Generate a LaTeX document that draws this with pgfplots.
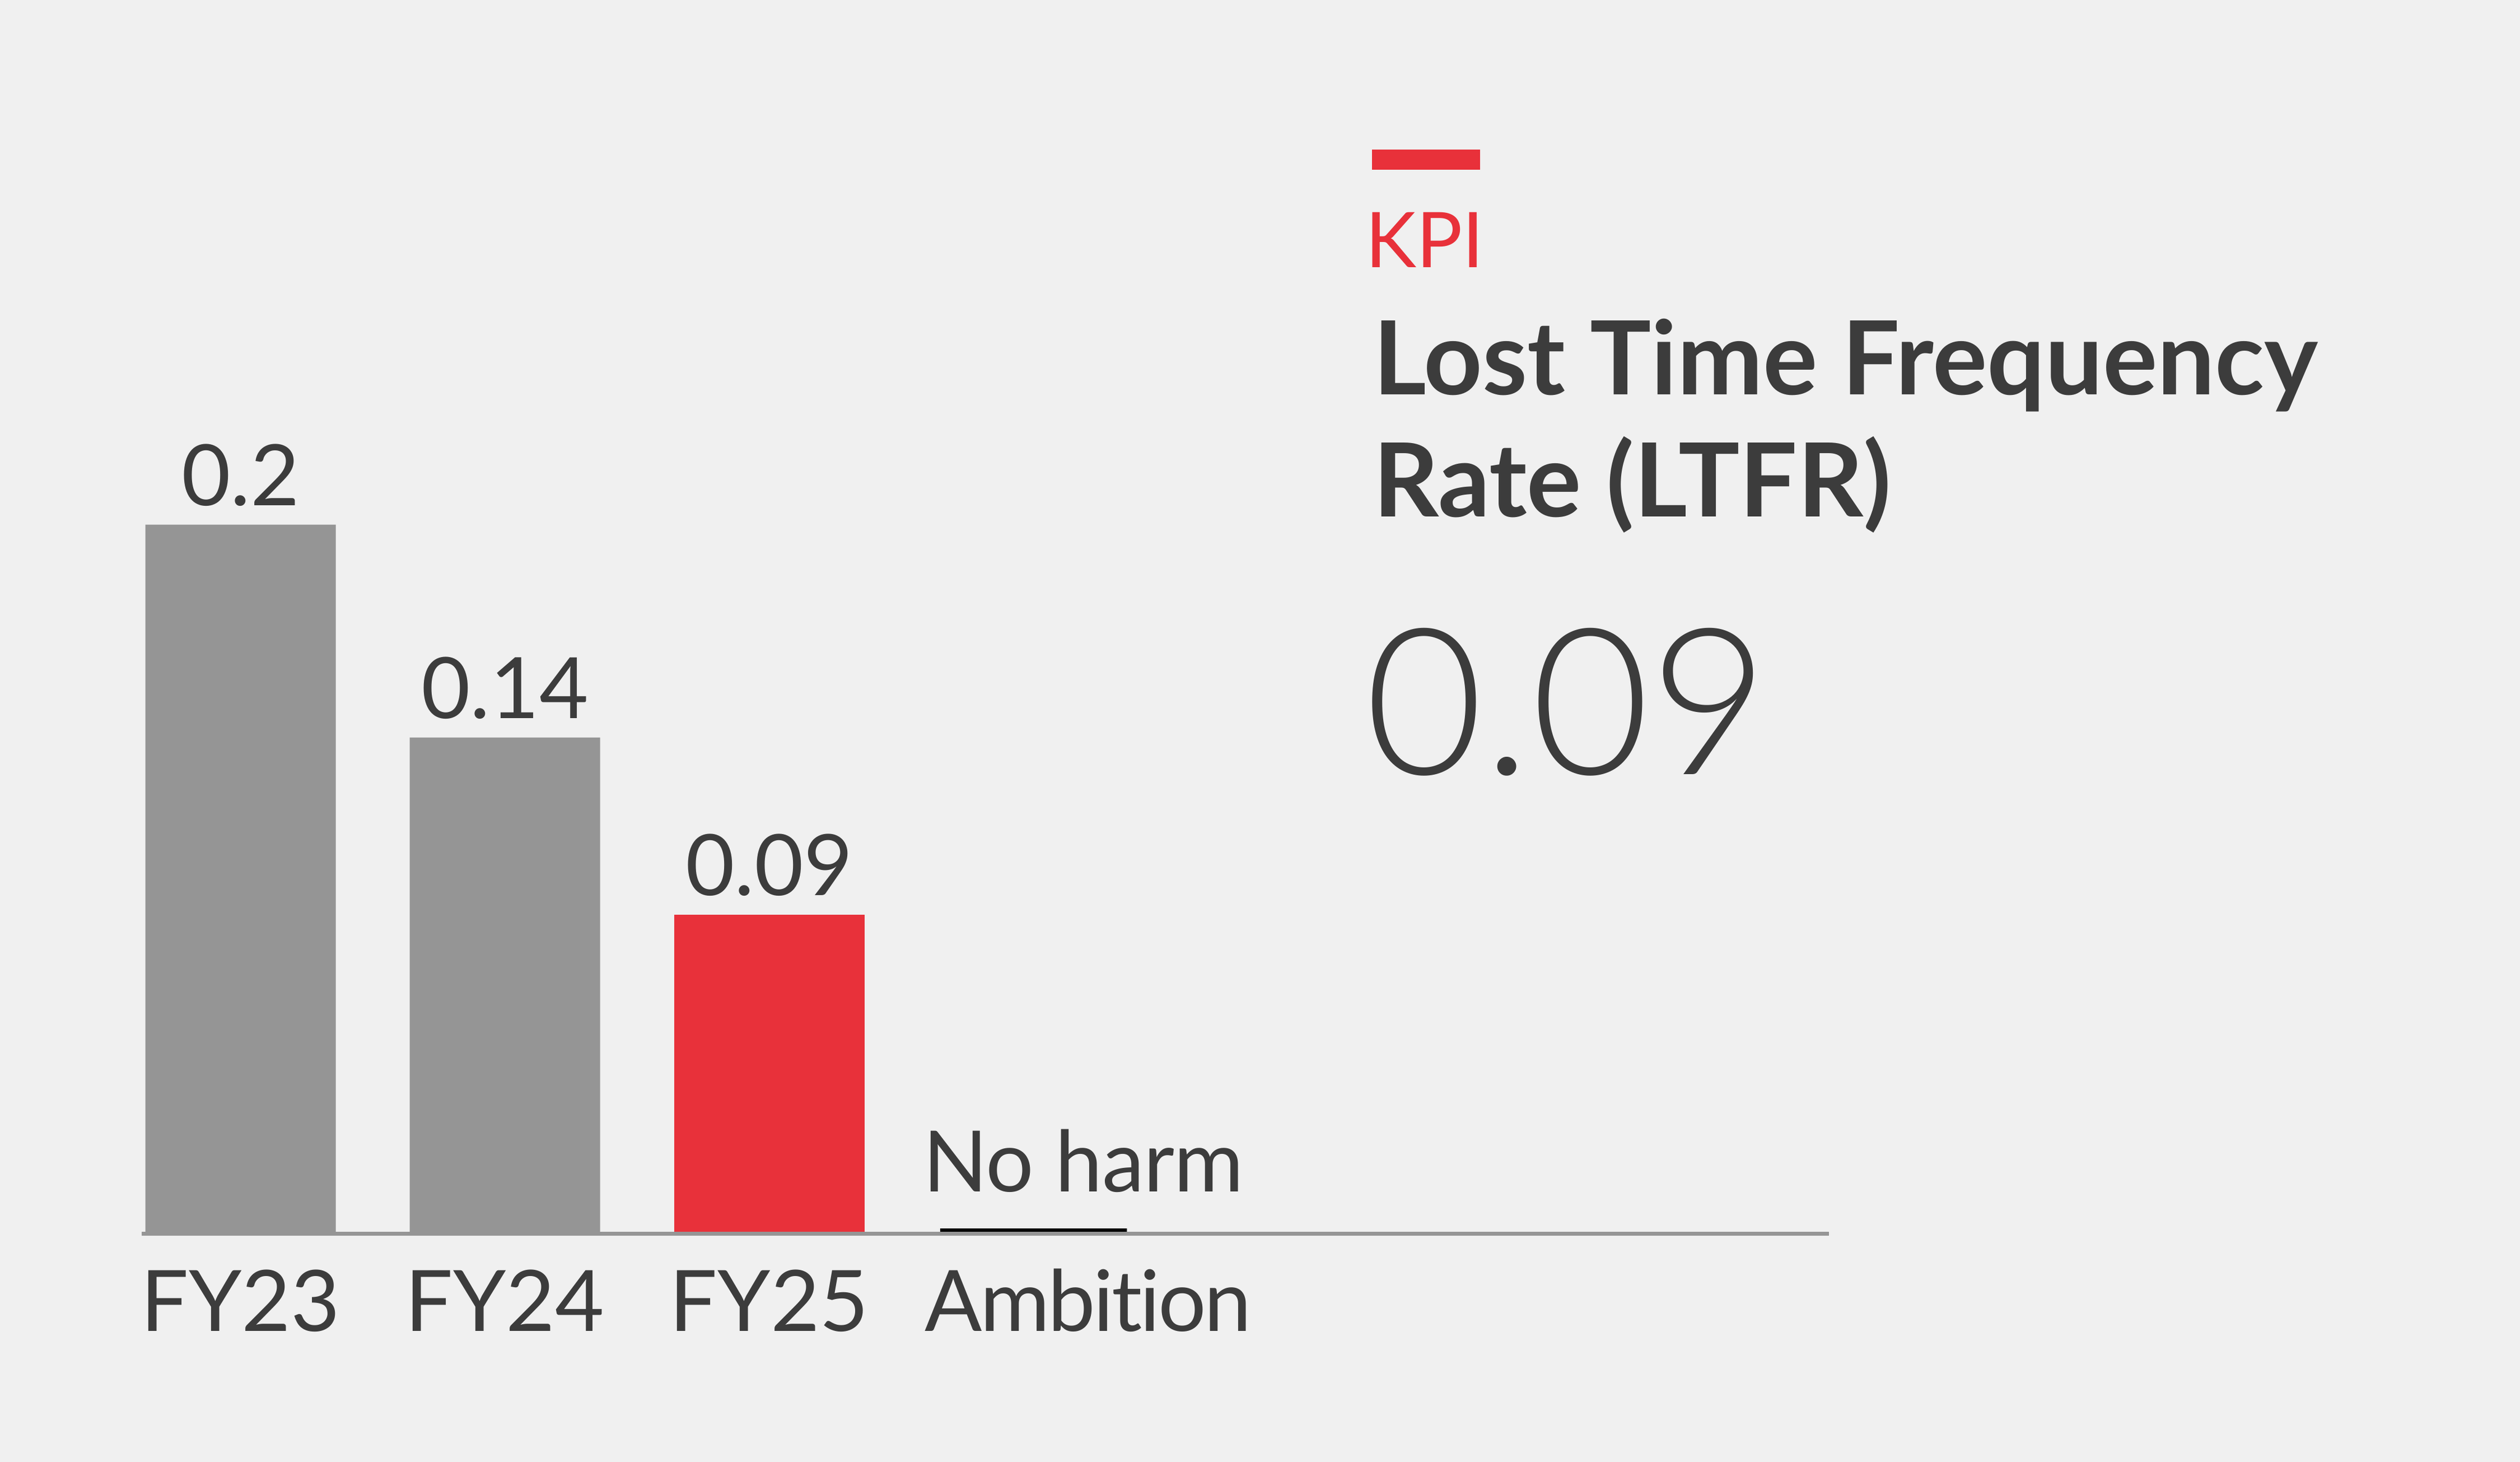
\documentclass[border=0pt]{standalone}
\usepackage{fontspec}
\setmainfont{Lato}[Ligatures=NoCommon]
\newfontfamily\latolight{Lato Light}
\usepackage{pgfplots}
\usepackage{pgfplotstable}
\pgfplotsset{compat=1.18}

\definecolor{bg}{HTML}{F0F0F0}
\definecolor{barg}{HTML}{959595}
\definecolor{kred}{HTML}{E8313A}
\definecolor{txt}{HTML}{3C3C3C}

% past years
\pgfplotstableread{
x y label
0 0.20 0.2
1 0.14 0.14
}\pastyears
% current year
\pgfplotstableread{
x y label
2 0.09 0.09
}\current
% ambition
\pgfplotstableread{
x y
3 0
}\ambition

\begin{document}
\begin{tikzpicture}[x=1mm,y=1mm]
\path[use as bounding box, fill=bg] (0,0) rectangle (156.8,90.94);
\begin{axis}[
  at={(8.82mm,14.18mm)}, anchor=south west,
  scale only axis,
  width=104.98mm, height=66.18mm,
  xmin=-0.374, xmax=6.009,
  ymin=0, ymax=0.3,
  axis x line=bottom,
  x axis line style={-, draw=barg, line width=0.24mm},
  hide y axis,
  axis on top,
  ybar, bar width=11.85mm, bar shift=0pt,
  xtick={0,1,2,3},
  xticklabels={FY23,FY24,FY25,{\makebox[0pt][l]{\hspace*{-6.75mm}\addfontfeature{LetterSpace=-2.4}Ambition}}},
  xtick style={draw=none},
  major tick length=0pt,
  xticklabel style={font=\fontsize{15}{18}\selectfont, text=txt, anchor=base, yshift=-6.06mm, inner sep=0pt},
  point meta=explicit symbolic,
]
\addplot[fill=barg, draw=none,
  nodes near coords,
  every node near coord/.append style={font=\fontsize{15}{18}\selectfont, text=txt, anchor=base, yshift=1.19mm, inner sep=0pt}]
  table[x=x, y=y, meta=label] {\pastyears};
\addplot[fill=kred, draw=none,
  nodes near coords,
  every node near coord/.append style={font=\fontsize{15}{18}\selectfont, text=txt, anchor=base, yshift=1.19mm, inner sep=0pt}]
  table[x=x, y=y, meta=label] {\current};
\addplot[fill=black, draw=black, line width=0.23mm, bar width=11.62mm, yshift=0.244mm,
  point meta=none,
  nodes near coords={\addfontfeature{LetterSpace=-0.5}No harm},
  every node near coord/.append style={font=\fontsize{15}{18}\selectfont, text=txt, anchor=base west, xshift=-7.0mm, yshift=2.37mm, inner sep=0pt}]
  table[x=x, y=y] {\ambition};
\end{axis}
\fill[kred] (85.37,80.38) rectangle (92.09,81.64);
\node[anchor=base west, inner sep=0pt, text=kred, font=\fontsize{13.6}{16}\selectfont] at (84.9,74.29) {KPI};
\node[anchor=base west, inner sep=0pt, text=txt, font=\bfseries\fontsize{18.1}{21.6}\selectfont] at (85.37,66.38) {Lost Time Frequency};
\node[anchor=base west, inner sep=0pt, text=txt, font=\bfseries\fontsize{18.1}{21.6}\selectfont] at (85.37,58.78) {Rate (LTFR)};
\node[anchor=base west, inner sep=0pt, text=txt, font=\latolight\fontsize{36.2}{40}\selectfont] at (84.85,42.75) {0.09};
\end{tikzpicture}
\end{document}
